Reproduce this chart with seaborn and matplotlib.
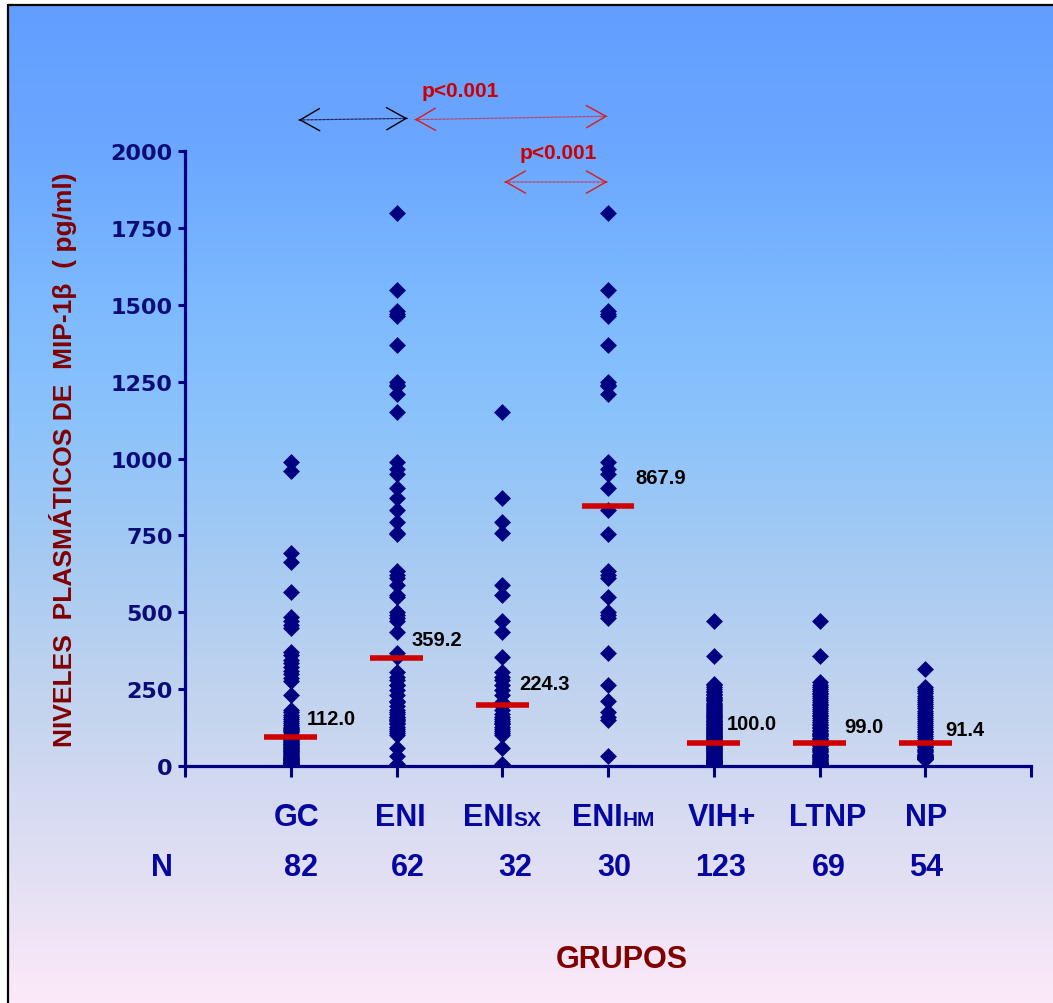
import numpy as np
import pandas as pd
import matplotlib
matplotlib.use("Agg")
import matplotlib.pyplot as plt
import matplotlib.transforms as mtransforms
from matplotlib.patches import ArrowStyle
from matplotlib.lines import Line2D
from matplotlib.colors import LinearSegmentedColormap
import seaborn as sns

# ---------------- data ----------------
groups = ["GC", "ENI", "ENIsx", "ENIhm", "VIH+", "LTNP", "NP"]
group_main = ["GC", "ENI", "ENI", "ENI", "VIH+", "LTNP", "NP"]
group_sub = ["", "", "SX", "HM", "", "", ""]
n_counts = ["82", "62", "32", "30", "123", "69", "54"]
mean_labels = ["112.0", "359.2", "224.3", "867.9", "100.0", "99.0", "91.4"]
line_levels = [93, 352, 200, 846, 74, 74, 74]
label_levels = [153, 410, 267, 937, 137, 130, 120]

gc = [988, 960, 692, 662, 567, 485, 472, 460, 450,
      372, 360, 346, 334, 322, 310, 298, 286, 276, 232,
      183, 175, 167, 160, 153, 146, 140, 134, 128, 123,
      118, 113, 109, 105, 101, 97,
      93, 90, 87, 84, 81, 78, 75, 72, 69, 66,
      63, 60, 57, 54, 51, 48, 45, 42, 39, 36,
      33, 30, 28, 26, 24, 22, 20, 18, 16, 14,
      12, 10, 9, 8, 7, 6, 5, 4, 3, 2,
      1, 0, 0, 120, 95, 70, 50]
eni_sx = [1150, 870, 794, 758, 589, 555, 472, 437, 355, 306,
          290, 279, 262, 246, 230, 208, 195, 181, 170, 160,
          154, 145, 137, 128, 120, 115, 108, 100, 58, 140,
          7, 3]
eni_hm = [1800, 1547, 1480, 1470, 1465, 1370, 1250, 1235, 1210, 987,
          965, 949, 905, 834, 753, 635, 620, 611, 548, 502,
          490, 480, 366, 262, 210, 175, 160, 148, 34, 1240]
eni = eni_sx + eni_hm
vih = [470, 358,
       268, 262, 256, 250, 245, 240, 235, 230, 226,
       222, 218, 214, 210, 206, 202, 198, 195, 192, 188,
       185, 182, 179, 176, 173, 170, 167, 164, 161, 158,
       155, 152, 150, 147, 145, 142, 140, 137, 135, 132,
       130, 128, 126, 124, 122, 120, 118, 116, 114, 112,
       110, 108, 106, 104, 102, 100, 98, 96, 94, 92,
       90, 88, 86, 84, 82, 80, 78, 76, 74, 72,
       70, 68, 66, 64, 62, 60, 58, 56, 54, 52,
       50, 48, 46, 44, 42, 40, 38, 36, 34, 32,
       30, 28, 26, 24, 22, 20, 19, 18, 17, 16,
       15, 14, 13, 12, 11, 10, 9, 8, 7, 6,
       5, 5, 4, 4, 3, 3, 2, 2, 1, 1,
       0, 0]
ltnp = [470, 358,
        272, 265, 258, 251, 245, 239, 233, 227,
        221, 215, 209, 203, 197, 191, 185, 179, 173, 167,
        161, 155, 149, 143, 138, 133, 128, 123, 118, 113,
        108, 104, 100, 96, 92, 88, 84, 80, 76, 72,
        68, 64, 60, 56, 52, 48, 44, 40, 37, 34,
        31, 28, 25, 22, 19, 16, 13, 11, 9, 7,
        5, 4, 3, 2, 1, 1, 0, 0, 0]
np_vals = [314,
           257, 250, 243, 236, 229, 222, 215, 208, 201,
           194, 187, 180, 173, 166, 159, 152, 145, 139, 133,
           127, 121, 115, 109, 103, 97, 91, 86, 81, 76,
           71, 66, 61, 56, 52, 48, 44, 40, 36, 33,
           31, 30, 29, 28, 27, 26, 26, 25, 25, 25,
           24, 24, 24, 23]

series = [gc, eni, eni_sx, eni_hm, vih, ltnp, np_vals]
y_ticks = [0, 250, 500, 750, 1000, 1250, 1500, 1750, 2000]

df = pd.DataFrame({
    "grupo": np.concatenate([[g] * len(v) for g, v in zip(groups, series)]),
    "valor": np.concatenate(series),
})

# ---------------- layout / style ----------------
NAVY = "#000080"
TICKC = "#0c0c78"
CATC = "#0606a0"
DARKRED = "#800000"
RED = "#d00000"

label_dx = [0.15, 0.14, 0.16, 0.26, 0.12, 0.23, 0.19]
cat_dx = [0.06, 0.04, 0.11, 0.14, 0.08, 0.08, 0.01]
n_dx = [0.10, 0.11, 0.12, 0.06, 0.06, 0.09, 0.01]

sns.set_style("ticks")
plt.rcParams["font.family"] = ["Liberation Sans", "DejaVu Sans"]

W, H = 1053, 1004
fig = plt.figure(figsize=(W / 100, H / 100), dpi=100, facecolor="white")

# background gradient
stops = [(0.0, (98, 158, 255)), (0.15, (108, 168, 255)), (0.30, (125, 186, 254)),
         (0.42, (140, 195, 251)), (0.55, (165, 202, 243)), (0.70, (195, 212, 238)),
         (0.85, (222, 222, 243)), (1.0, (252, 233, 248))]
cmap = LinearSegmentedColormap.from_list("bg", [(p, tuple(c / 255 for c in col)) for p, col in stops])
bg = fig.add_axes([9 / W, 0, 1 - 9 / W, 1 - 7 / H], zorder=-10)
bg.imshow(np.linspace(0, 1, 600).reshape(-1, 1), cmap=cmap, aspect="auto",
          extent=[0, 1, 0, 1], origin="upper")
bg.axis("off")
fig.add_artist(Line2D([8 / W, 8 / W], [0, 1 - 6 / H], color="black", lw=1.6))
fig.add_artist(Line2D([8 / W, 1], [1 - 6 / H, 1 - 6 / H], color="black", lw=1.6))

ax = fig.add_axes([185 / W, 1 - 767 / H, (1031 - 185) / W, (767 - 152) / H], zorder=1)
ax.patch.set_alpha(0)

sns.stripplot(data=df, x="grupo", y="valor", order=groups, jitter=False,
              marker="D", color=NAVY, size=8.6, linewidth=0, ax=ax, zorder=3)

xpos = np.arange(len(groups))
ax.hlines(line_levels, xpos - 0.25, xpos + 0.25, color=RED, lw=4.0, zorder=4)

for i in range(len(groups)):
    ax.text(xpos[i] + label_dx[i], label_levels[i], mean_labels[i], ha="left", va="center",
            fontsize=14.5, fontweight="bold", color="black", zorder=5)

ax.set_xlim(-1, 7)
ax.set_ylim(0, 2000)
ax.set_xticks(range(-1, 8))
ax.set_xticklabels([""] * 9)
ax.set_yticks(y_ticks)
ax.set_yticklabels([str(t) for t in y_ticks], fontfamily="DejaVu Sans",
                   fontweight="bold", fontsize=16, color=TICKC)
ax.tick_params(axis="y", direction="out", length=5, width=2.2, color=NAVY, pad=4)
ax.tick_params(axis="x", direction="out", length=8, width=2.2, color=NAVY)
ax.set_xlabel("")
ax.set_ylabel("")
for s in ["top", "right"]:
    ax.spines[s].set_visible(False)
for s in ["left", "bottom"]:
    ax.spines[s].set_color(NAVY)
    ax.spines[s].set_linewidth(2.3)

trans = mtransforms.blended_transform_factory(ax.transData, ax.transAxes)
for i in range(len(groups)):
    if group_sub[i]:
        ax.text(xpos[i] + cat_dx[i], -0.096, group_main[i], transform=trans, ha="right",
                va="baseline", fontsize=22, fontweight="bold", color=CATC)
        ax.text(xpos[i] + cat_dx[i], -0.096, group_sub[i], transform=trans, ha="left",
                va="baseline", fontsize=15, fontweight="bold", color=CATC)
    else:
        ax.text(xpos[i] + cat_dx[i], -0.096, group_main[i], transform=trans, ha="center",
                va="baseline", fontsize=22, fontweight="bold", color=CATC)
    ax.text(xpos[i] + n_dx[i], -0.177, n_counts[i], transform=trans, ha="center",
            va="baseline", fontsize=22, fontweight="bold", color=CATC)
ax.text(-1.22, -0.177, "N", transform=trans, ha="center", va="baseline",
        fontsize=22, fontweight="bold", color=CATC)
ax.text(3.13, -0.327, "GRUPOS", transform=trans, ha="center", va="baseline",
        fontsize=22, fontweight="bold", color=DARKRED)

fig.text(63 / W, 1 - 460 / H, "NIVELES  PLASMÁTICOS DE  MIP-1β  ( pg/ml)", rotation=90,
         ha="center", va="center", fontsize=19, fontweight="bold", color=DARKRED)

# significance arrows
def shaft(x0, y0, x1, y1, color):
    ax.annotate("", xy=(x1, y1), xytext=(x0, y0),
                arrowprops=dict(arrowstyle="-", linestyle=(0, (2, 1.2)), color=color, lw=0.9,
                                shrinkA=0, shrinkB=0), annotation_clip=False)

def head(xt, yt, xf, yf, color):
    ax.annotate("", xy=(xt, yt), xytext=(xt + (xf - xt) * 0.01, yt + (yf - yt) * 0.01),
                arrowprops=dict(arrowstyle=ArrowStyle("->", head_length=14, head_width=8),
                                mutation_scale=1, color=color, lw=1.0,
                                shrinkA=0, shrinkB=0), annotation_clip=False)

arrow_specs = [
    (0.076, 2101, 1.103, 2106, "black", "#25255e"),
    (1.172, 2102, 2.993, 2113, "#dd1a1a", "#c0406a"),
    (2.023, 1899, 2.993, 1899, "#dd1a1a", "#c0406a"),
]
for x0, y0, x1, y1, hc, sc in arrow_specs:
    shaft(x0, y0, x1, y1, sc)
    head(x0, y0, x1, y1, hc)
    head(x1, y1, x0, y0, hc)

ax.text(1.607, 2198, "p<0.001", ha="center", va="center", fontsize=15,
        fontweight="bold", color="#cc0000")
ax.text(2.533, 1995, "p<0.001", ha="center", va="center", fontsize=15,
        fontweight="bold", color="#cc0000")

fig.savefig("out.png", dpi=100, facecolor="white")
